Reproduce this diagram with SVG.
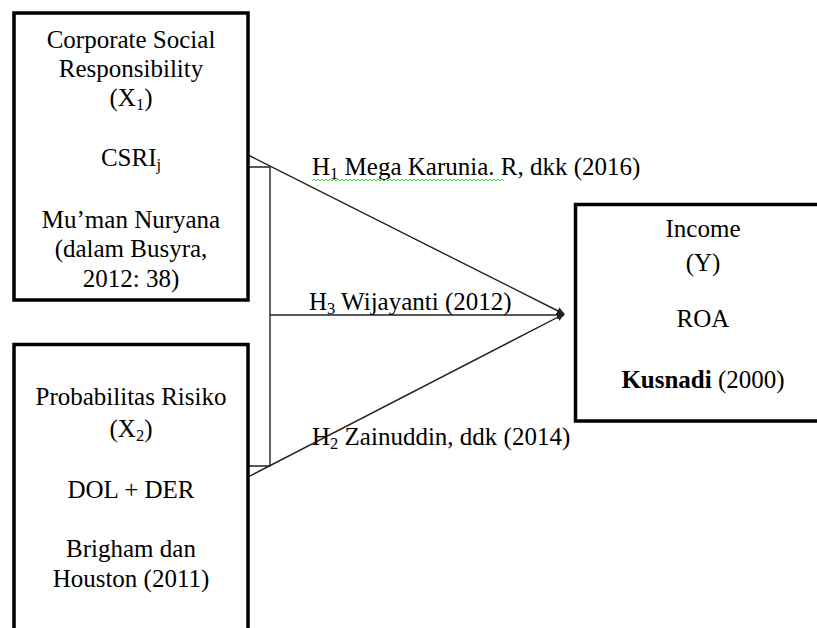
<svg xmlns="http://www.w3.org/2000/svg" width="817" height="628" viewBox="0 0 817 628">
<defs>
<style>
.box{fill:#fff;stroke:#000;stroke-width:3.5}
.t{font-family:"Liberation Serif","Times New Roman",serif;font-size:25px;fill:#000;text-anchor:middle}
.l{font-family:"Liberation Serif","Times New Roman",serif;font-size:25px;fill:#000}
.c{stroke:#222;stroke-width:1.4;fill:none}
.sub{font-size:16.5px}
</style>
<marker id="ah" viewBox="0 0 10 10" refX="9" refY="5" markerWidth="8" markerHeight="8" markerUnits="userSpaceOnUse" orient="auto">
<path d="M0,0 L10,5 L0,10 z" fill="#222"/>
</marker>
</defs>
<rect width="817" height="628" fill="#fff"/>
<g id="connectors">
<line class="c" x1="248" y1="155" x2="564" y2="314" marker-end="url(#ah)"/>
<line class="c" x1="248" y1="477" x2="564" y2="314" marker-end="url(#ah)"/>
<line class="c" x1="270" y1="315" x2="564" y2="315" marker-end="url(#ah)"/>
<polyline class="c" points="248,167 270,167 270,466 248,466"/>
</g>
<g id="x1">
<rect class="box" x="14" y="13" width="234" height="287"/>
<text class="t" x="131" y="48">Corporate Social</text>
<text class="t" x="131" y="77">Responsibility</text>
<text class="t" x="131" y="106">(X<tspan class="sub" dy="4">1</tspan><tspan dy="-4">)</tspan></text>
<text class="t" x="131" y="166">CSRI<tspan class="sub" dy="4">j</tspan></text>
<text class="t" x="131" y="228">Mu’man Nuryana</text>
<text class="t" x="131" y="257">(dalam Busyra,</text>
<text class="t" x="131" y="287">2012: 38)</text>
</g>
<g id="x2">
<rect class="box" x="14" y="344.5" width="234" height="300"/>
<text class="t" x="131" y="405">Probabilitas Risiko</text>
<text class="t" x="131" y="437">(X<tspan class="sub" dy="4">2</tspan><tspan dy="-4">)</tspan></text>
<text class="t" x="131" y="498">DOL + DER</text>
<text class="t" x="131" y="557">Brigham dan</text>
<text class="t" x="131" y="587">Houston (2011)</text>
</g>
<g id="y">
<rect class="box" x="575.5" y="204.5" width="260" height="216.5"/>
<text class="t" x="703" y="237">Income</text>
<text class="t" x="703" y="271">(Y)</text>
<text class="t" x="703" y="327">ROA</text>
<text class="t" x="703" y="388"><tspan font-weight="bold">Kusnadi</tspan> (2000)</text>
</g>
<g id="labels">
<text class="l" x="312" y="175">H<tspan class="sub" dy="4">1</tspan><tspan dy="-4"> Mega Karunia. R, dkk (2016)</tspan></text>
<path d="M312,181 l2,-2 l2,2 l2,-2 l2,2 l2,-2 l2,2 l2,-2 l2,2 l2,-2 l2,2 l2,-2 l2,2 l2,-2 l2,2 l2,-2 l2,2 l2,-2 l2,2 l2,-2 l2,2 l2,-2 l2,2 l2,-2 l2,2 l2,-2 l2,2 l2,-2 l2,2 l2,-2 l2,2 l2,-2 l2,2 l2,-2 l2,2 l2,-2 l2,2 l2,-2 l2,2 l2,-2 l2,2 l2,-2 l2,2 l2,-2 l2,2 l2,-2 l2,2 l2,-2 l2,2 l2,-2 l2,2 l2,-2 l2,2 l2,-2 l2,2 l2,-2 l2,2 l2,-2 l2,2 l2,-2 l2,2 l2,-2 l2,2 l2,-2 l2,2 l2,-2 l2,2 l2,-2 l2,2 l2,-2 l2,2 l2,-2 l2,2 l2,-2 l2,2 l2,-2 l2,2 l2,-2 l2,2 l2,-2 l2,2 l2,-2 l2,2 l2,-2 l2,2 l2,-2 l2,2 l2,-2 l2,2 l2,-2 l2,2 l2,-2 l2,2 l2,-2 l2,2 l2,-2 l2,2" fill="none" stroke="#3c3" stroke-width="1"/>
<text class="l" x="309" y="310">H<tspan class="sub" dy="4">3</tspan><tspan dy="-4"> Wijayanti (2012)</tspan></text>
<text class="l" x="312" y="445">H<tspan class="sub" dy="4">2</tspan><tspan dy="-4"> Zainuddin, ddk (2014)</tspan></text>
</g>
</svg>
